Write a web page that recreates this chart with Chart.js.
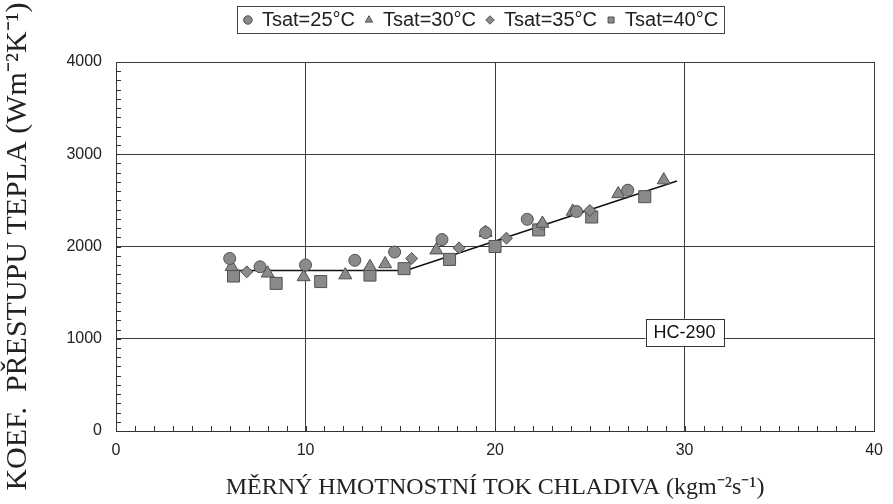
<!DOCTYPE html>
<html><head><meta charset="utf-8">
<script src="https://cdn.jsdelivr.net/npm/chart.js@4.4.1/dist/chart.umd.min.js"></script>
<style>html,body{margin:0;padding:0;background:#fff;}canvas{display:block;}</style>
</head><body>
<canvas id="c" width="893" height="504"></canvas>
<script>
// ---- data ----
const seriesLabels = ['Tsat=25°C', 'Tsat=30°C', 'Tsat=35°C', 'Tsat=40°C'];
const tsat25X = [6.0, 7.6, 10.0, 12.6, 14.7, 17.2, 19.5, 21.7, 24.3, 27.0];
const tsat25Y = [1870, 1780, 1800, 1850, 1940, 2075, 2150, 2295, 2380, 2610];
const tsat30X = [6.1, 8.0, 9.9, 12.1, 13.4, 14.2, 16.9, 19.5, 22.5, 24.1, 26.5, 28.9];
const tsat30Y = [1780, 1710, 1670, 1690, 1780, 1810, 1960, 2150, 2250, 2380, 2570, 2720];
const tsat35X = [6.9, 15.6, 18.1, 20.6, 22.5, 25.0];
const tsat35Y = [1725, 1870, 1985, 2090, 2240, 2390];
const tsat40X = [6.2, 8.45, 10.8, 13.4, 15.2, 17.6, 20.0, 22.3, 25.1, 27.9];
const tsat40Y = [1680, 1600, 1620, 1690, 1760, 1860, 2000, 2180, 2320, 2540];
const fitX = [6.0, 15.3, 29.6];
const fitY = [1740, 1740, 2710];
const xTicks = [0, 10, 20, 30, 40];
const yTicks = [0, 1000, 2000, 3000, 4000];
const xMinorStep = 1;
const yMinorStep = 100;
const annotationText = 'HC-290';
const annotationAt = [30, 1070];
const xTitle = 'MĚRNÝ HMOTNOSTNÍ TOK CHLADIVA (kgm\u207B\u00B2s\u207B\u00B9)';
const yTitle = 'KOEF.  PŘESTUPU TEPLA (Wm\u207B\u00B2K\u207B\u00B9)';

// ---- styling ----
const FILL = '#8a8a8a', EDGE = '#505050', INK = '#222222', GRID = '#3c3c3c';
const LEGEND_GAP = 22, LEGEND_SHIFT = 41;

function pts(xs, ys) { return xs.map((x, i) => ({ x: x, y: ys[i] })); }
function scatterSet(label, xs, ys, style, r) {
  return { type: 'scatter', label: label, data: pts(xs, ys), pointStyle: style,
    pointRadius: r, pointHoverRadius: r, backgroundColor: FILL, borderColor: EDGE, borderWidth: 1 };
}

const decor = {
  id: 'decor',
  afterInit(chart) {
    const lg = chart.legend;
    if (lg && !lg._padded) {
      const f = lg.fit;
      lg.fit = function () { f.call(this); this.height += LEGEND_GAP; };
      lg._padded = true;
    }
  },
  afterLayout(chart) {
    const lg = chart.legend;
    if (lg) { lg.left += LEGEND_SHIFT; lg.right += LEGEND_SHIFT; }
  },
  beforeDatasetsDraw(chart) {
    const { ctx, chartArea: a, scales: { x, y } } = chart;
    ctx.save();
    ctx.strokeStyle = '#333'; ctx.lineWidth = 1;
    ctx.beginPath();
    for (let v = 0; v <= 4000 + 1e-6; v += yMinorStep) {
      const py = Math.round(y.getPixelForValue(v)) + 0.5;
      ctx.moveTo(a.left, py); ctx.lineTo(a.left + 5, py);
    }
    for (let v = 0; v <= 40 + 1e-6; v += xMinorStep) {
      const px = Math.round(x.getPixelForValue(v)) + 0.5;
      ctx.moveTo(px, a.bottom); ctx.lineTo(px, a.bottom - 5);
    }
    ctx.stroke();
    ctx.restore();
  },
  afterDraw(chart) {
    const { ctx, scales: { x, y } } = chart;
    ctx.save();
    const hb = chart.legend.legendHitBoxes;
    if (hb && hb.length) {
      const l = hb[0].left - 7, r = hb[hb.length - 1].left + hb[hb.length - 1].width + 6;
      ctx.strokeStyle = '#444'; ctx.lineWidth = 1;
      ctx.strokeRect(Math.round(l) + 0.5, 6.5, Math.round(r - l), 27);
    }
    const cx = x.getPixelForValue(annotationAt[0]), cy = y.getPixelForValue(annotationAt[1]);
    ctx.font = '18px "Liberation Sans", Arial, sans-serif';
    const w = ctx.measureText(annotationText).width + 16, h = 27;
    ctx.fillStyle = '#fff';
    ctx.fillRect(cx - w / 2, cy - h / 2, w, h);
    ctx.strokeStyle = '#333'; ctx.lineWidth = 1;
    ctx.strokeRect(Math.round(cx - w / 2) + 0.5, Math.round(cy - h / 2) + 0.5, Math.round(w), h);
    ctx.fillStyle = '#111'; ctx.textAlign = 'center'; ctx.textBaseline = 'middle';
    ctx.fillText(annotationText, cx, cy + 1);
    ctx.restore();
  }
};

const tickFont = { family: '"Liberation Sans", Arial, sans-serif', size: 16 };
new Chart(document.getElementById('c'), {
  data: {
    datasets: [
      scatterSet(seriesLabels[0], tsat25X, tsat25Y, 'circle', 6),
      scatterSet(seriesLabels[1], tsat30X, tsat30Y, 'triangle', 7.5),
      scatterSet(seriesLabels[2], tsat35X, tsat35Y, 'rectRot', 6),
      scatterSet(seriesLabels[3], tsat40X, tsat40Y, 'rect', 8.5),
      { type: 'line', label: 'fit', data: pts(fitX, fitY), borderColor: '#111', borderWidth: 1.6,
        pointRadius: 0, fill: false, tension: 0 }
    ]
  },
  options: {
    responsive: false, animation: false, devicePixelRatio: 1,
    layout: { padding: { left: 0, right: 13, top: 0, bottom: 0 } },
    plugins: {
      tooltip: { enabled: false },
      legend: {
        position: 'top',
        labels: {
          usePointStyle: true, boxWidth: 8, boxHeight: 6, padding: 10, color: INK,
          font: { family: '"Liberation Sans", Arial, sans-serif', size: 20 },
          filter: (item) => item.text !== 'fit'
        }
      }
    },
    scales: {
      x: {
        type: 'linear', min: 0, max: 40,
        afterBuildTicks: (s) => { s.ticks = xTicks.map(v => ({ value: v })); },
        afterFit: (s) => { s.height = 73; },
        grid: { color: GRID, lineWidth: 1, drawTicks: false },
        border: { color: '#333', width: 1 },
        ticks: { color: INK, padding: 10, font: tickFont, callback: (v) => String(v) },
        title: { display: true, text: xTitle, color: INK, padding: { top: 0, bottom: 2 },
          font: { family: '"Liberation Serif", "Times New Roman", serif', size: 24, lineHeight: 1.2 } }
      },
      y: {
        type: 'linear', min: 0, max: 4000,
        afterBuildTicks: (s) => { s.ticks = yTicks.map(v => ({ value: v })); },
        afterFit: (s) => { s.width = 116; },
        grid: { color: GRID, lineWidth: 1, drawTicks: false },
        border: { color: '#333', width: 1 },
        ticks: { color: INK, padding: 14, font: tickFont, callback: (v) => String(v) },
        title: { display: true, text: yTitle, color: INK, padding: { top: 0, bottom: 0 },
          font: { family: '"Liberation Serif", "Times New Roman", serif', size: 30, lineHeight: 1.2 } }
      }
    }
  },
  plugins: [decor]
});
</script>
</body></html>
